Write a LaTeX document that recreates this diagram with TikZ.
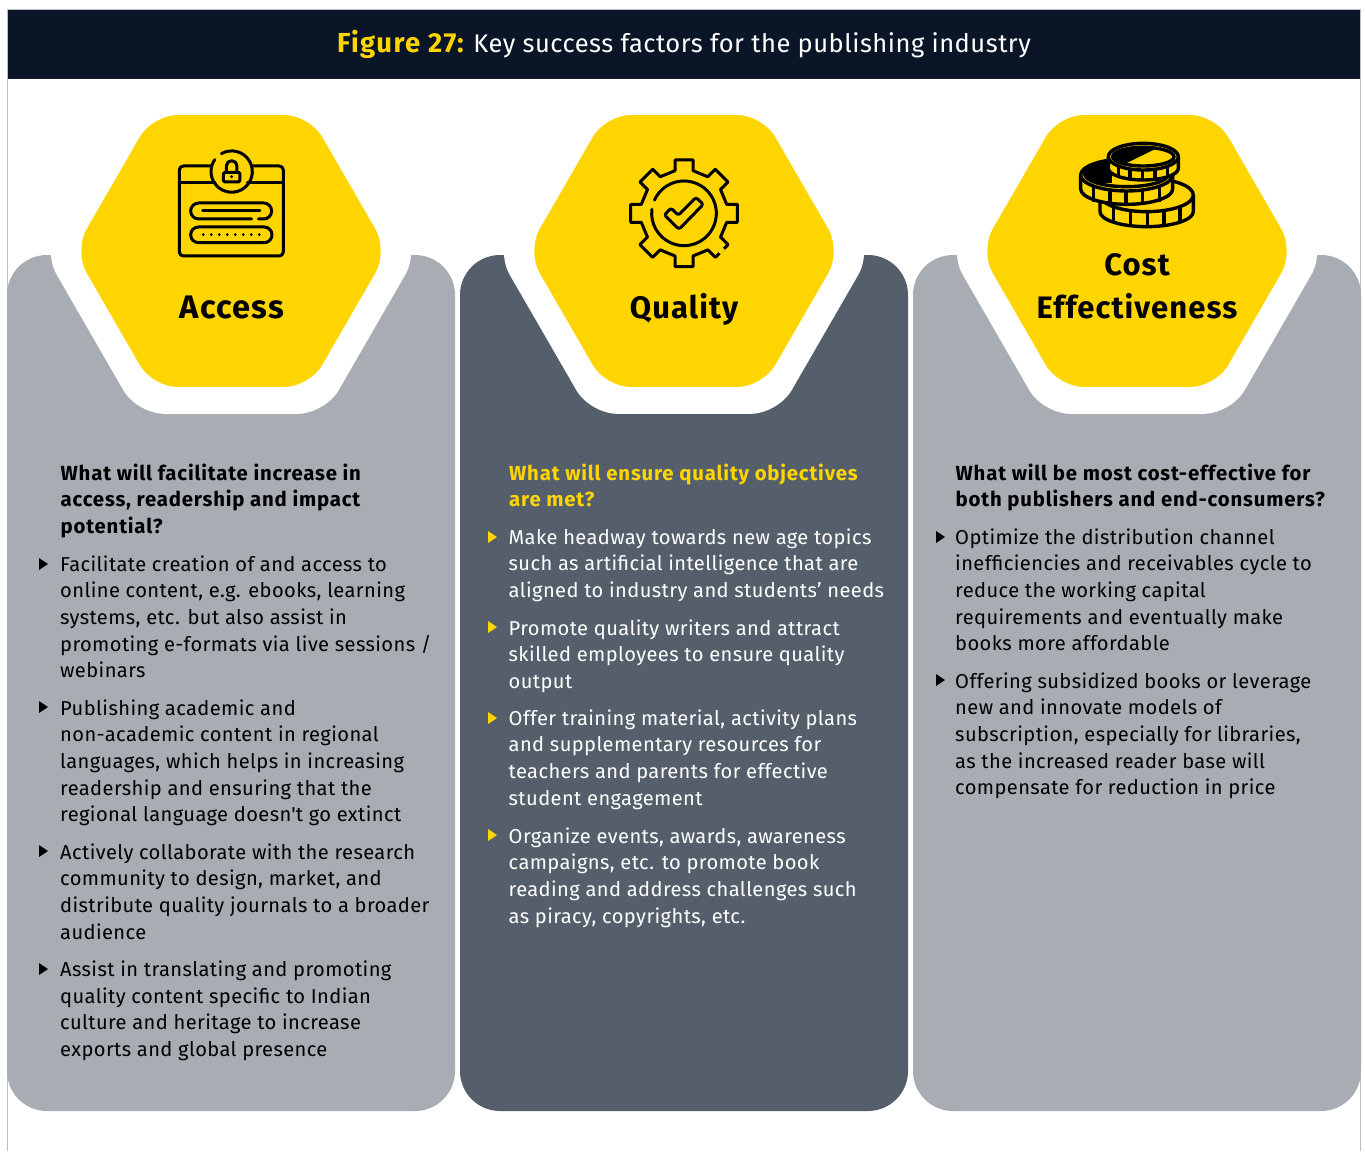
\documentclass[tikz,border=0pt]{standalone}
\usepackage{fontspec}
\setmainfont{Fira Sans}[LetterSpace=2]
\newfontfamily\plainfam{Fira Sans}[LetterSpace=2]
\usetikzlibrary{calc}
\definecolor{navy}{HTML}{0A1628}
\definecolor{eyyellow}{HTML}{FFD500}
\definecolor{panelgrey}{HTML}{A7ADB3}
\definecolor{paneldark}{HTML}{545F6B}
\definecolor{framegrey}{HTML}{B9BEC3}
\newcommand{\hexag}[1]{(0,{-0.866*#1}) -- ({#1/2},{-0.866*#1}) -- (#1,0) -- ({#1/2},{0.866*#1}) -- ({-#1/2},{0.866*#1}) -- ({-#1},0) -- ({-#1/2},{-0.866*#1}) -- cycle}
\tikzset{
  panelbox/.style={rounded corners=40pt,draw=none},
  hexyellow/.style={fill=eyyellow,rounded corners=25pt},
  hexwhite/.style={fill=white,rounded corners=27pt},
  hexlabel/.style={anchor=base,font=\bfseries\addfontfeature{LetterSpace=3.5}\fontsize{31}{42.5}\selectfont,text=black,align=center,inner sep=0pt},
  bodytext/.style={anchor=north west,align=left,inner sep=0pt,font=\fontsize{20.1}{26.6}\selectfont},
  headtext/.style={anchor=north west,align=left,inner sep=0pt,font=\bfseries\addfontfeature{LetterSpace=4}\fontsize{20.35}{26.6}\selectfont},
  icon/.style={line width=3pt,line cap=round,line join=round,draw=black},
  bullet/.style={fill=#1,draw=none},
}
\newcommand{\btri}[4]{\fill[bullet=#4] (#1,{#2-6}) -- ({#1+9},#2) -- (#1,{#2+6}) -- cycle;}
\newcommand{\para}[5]{\node[#5] (#1) at (#2,{#3-18.6}) {\strut #4\strut};}
\begin{document}
\begin{tikzpicture}[x=1pt,y=-1pt]
\useasboundingbox (0,0) rectangle (1365,1151);
\fill[white] (0,0) rectangle (1365,1151);
\draw[framegrey,line width=1.2pt] (7.5,1151) -- (7.5,9.5) -- (1360.5,9.5) -- (1360.5,1151);
\fill[navy] (8,10) rectangle (1360,79);
\node[anchor=base,inner sep=0pt,text=white,font=\fontsize{25.5}{30}\selectfont] (title) at (684,52) {\textcolor{eyyellow}{\bfseries\addfontfeature{LetterSpace=5}\fontsize{27.5}{30}\selectfont Figure 27:} Key success factors for the publishing industry};

% panels
\fill[panelgrey,panelbox] (7,255) rectangle (455,1111);
\fill[paneldark,panelbox] (460,255) rectangle (908,1111);
\fill[panelgrey,panelbox] (913,255) rectangle (1361,1111);

% hexagons
\foreach \cx in {231,684,1137}{
  \begin{scope}[shift={(\cx,251)}]
    \fill[hexwhite] \hexag{188};
    \fill[hexyellow] \hexag{157};
  \end{scope}
}
\node[hexlabel,font=\bfseries\addfontfeature{LetterSpace=3.5}\fontsize{32.6}{42.5}\selectfont] (l1) at (232,318) {Access};
\node[hexlabel] (l2) at (684,318) {Quality};
\node[hexlabel] (l3) at (1137,275.5) {Cost};
\node[hexlabel] (l4) at (1137,318) {Effectiveness};

% lock icon
\begin{scope}[shift={(150,130)},x=0.3333pt,y=-0.3333pt]
  \draw[icon,rounded corners=4pt] (185,108) -- (88,108) -- (88,378) -- (400,378) -- (400,108) -- (305,108);
  \draw[icon] (88,158) -- (195,158) (292,158) -- (400,158);
  \draw[icon] (214,71) arc[start angle=-120,end angle=215,radius=62];
  \draw[icon,rounded corners=1.5pt] (220,127) rectangle (270,156);
  \draw[icon] (229,127) -- (229,108) arc[start angle=180,end angle=360,radius=16] -- (261,127);
  \fill (245,140) circle (5);
  \draw[icon] (305,267) -- (146,267) arc[start angle=90,end angle=270,radius=24] -- (341,219) arc[start angle=270,end angle=450,radius=24] -- (325,267);
  \draw[icon] (158,243) -- (330,243);
  \draw[icon,rounded corners=7.8pt] (122,291) rectangle (366,338);
  \foreach \dx in {160,184,208,232,256,280,304,328}{\fill (\dx,314) circle (4.5);}
\end{scope}

% gear icon
\begin{scope}[shift={(610,140)},x=0.3333pt,y=-0.3333pt]
  \begin{scope}[shift={(222,220)}]
  \foreach \a in {0,45,...,315}{
    \draw[icon,rotate=\a] (-27,-128) -- (-27,-160) -- (27,-160) -- (27,-128) -- (71.4,-109.6);
  }
  \end{scope}
  \draw[eyyellow,line width=4pt] (341,326) -- (328,339);
  \draw[icon] (133.4,180.5) arc[start angle=-156,end angle=187,radius=97];
  \draw[icon,rounded corners=2.5pt] (163,225) -- (183,204) -- (205,226) -- (258,172) -- (280,193) -- (207,268) -- cycle;
\end{scope}

% coins icon
\begin{scope}[shift={(1060,130)},x=0.3333pt,y=-0.3333pt,line width=3.4pt,line join=round]
  % bottom coin
  \filldraw[fill=eyyellow,draw=black] (120,195) -- (120,245) arc[x radius=140,y radius=45,start angle=180,end angle=0] -- (400,195) -- cycle;
  \filldraw[fill=eyyellow,draw=black] (260,195) ellipse[x radius=140,y radius=50];
  \foreach \px/\py in {160/232,212/240,262/242,312/240,360/231}{\draw (\px,\py) -- (\px,{\py+46});}
  % middle coin
  \filldraw[fill=eyyellow,draw=black] (62,135) -- (62,177) arc[x radius=138,y radius=46,start angle=180,end angle=0] -- (338,135) -- cycle;
  \filldraw[fill=eyyellow,draw=black] (200,135) ellipse[x radius=138,y radius=48];
  \begin{scope}
    \clip (200,132) ellipse[x radius=126,y radius=38];
    \fill (60,90) rectangle (155,160);
  \end{scope}
  \draw (200,132) ellipse[x radius=126,y radius=38];
  \foreach \px/\py in {100/172,150/180,198/183,248/180,298/172}{\draw (\px,\py) -- (\px,{\py+43});}
  % top coin
  \filldraw[fill=eyyellow,draw=black] (145,80) -- (145,115) arc[x radius=105,y radius=35,start angle=180,end angle=0] -- (355,80) -- cycle;
  \filldraw[fill=eyyellow,draw=black] (250,80) ellipse[x radius=105,y radius=40];
  \begin{scope}
    \clip (250,80) ellipse[x radius=92,y radius=28];
    \fill (150,40) -- (300,40) -- (290,55) -- (198,100) -- (150,110) -- cycle;
  \end{scope}
  \draw (250,80) ellipse[x radius=92,y radius=28];
  \foreach \px/\py in {175/108,210/116,248/118,285/116,322/107}{\draw (\px,\py) -- (\px,{\py+33});}
\end{scope}

% left column
\para{a0}{60.5}{480}{What will facilitate increase in\\access, readership and impact\\potential?}{headtext,text=black}
\btri{39}{564}{}{black}
\para{a1}{60}{571}{Facilitate creation of and access to\\online content, e.g. ebooks, learning\\systems, etc. but also assist in\\promoting e-formats via live sessions /\\webinars}{bodytext,text=black}
\btri{39}{707}{}{black}
\para{a2}{60}{715}{Publishing academic and\\non-academic content in regional\\languages, which helps in increasing\\readership and ensuring that the\\regional language doesn{\plainfam '}t go extinct}{bodytext,text=black}
\btri{39}{851}{}{black}
\para{a3}{60}{859}{Actively collaborate with the research\\community to design, market, and\\distribute quality journals to a broader\\audience}{bodytext,text=black}
\btri{39}{969}{}{black}
\para{a4}{60}{976.5}{Assist in translating and promoting\\quality content specific to Indian\\culture and heritage to increase\\exports and global presence}{bodytext,text=black}

% middle column
\para{b0}{509}{480}{What will ensure quality objectives\\are met?}{headtext,text=eyyellow}
\btri{488}{537}{}{eyyellow}
\para{b1}{508.5}{544}{Make headway towards new age topics\\such as artificial intelligence that are\\aligned to industry and students’ needs}{bodytext,text=white}
\btri{488}{627}{}{eyyellow}
\para{b2}{508.5}{635}{Promote quality writers and attract\\skilled employees to ensure quality\\output}{bodytext,text=white}
\btri{488}{718}{}{eyyellow}
\para{b3}{508.5}{725}{Offer training material, activity plans\\and supplementary resources for\\teachers and parents for effective\\student engagement}{bodytext,text=white}
\btri{488}{835}{}{eyyellow}
\para{b4}{508.5}{843}{Organize events, awards, awareness\\campaigns, etc. to promote book\\reading and address challenges such\\as piracy, copyrights, etc.}{bodytext,text=white}

% right column
\para{c0}{955.5}{480}{What will be most cost-effective for\\both publishers and end-consumers?}{headtext,text=black}
\btri{936}{537}{}{black}
\para{c1}{955}{544}{Optimize the distribution channel\\inefficiencies and receivables cycle to\\reduce the working capital\\requirements and eventually make\\books more affordable}{bodytext,text=black}
\btri{936}{680}{}{black}
\para{c2}{955}{688}{Offering subsidized books or leverage\\new and innovate models of\\subscription, especially for libraries,\\as the increased reader base will\\compensate for reduction in price}{bodytext,text=black}
\end{tikzpicture}
\end{document}
